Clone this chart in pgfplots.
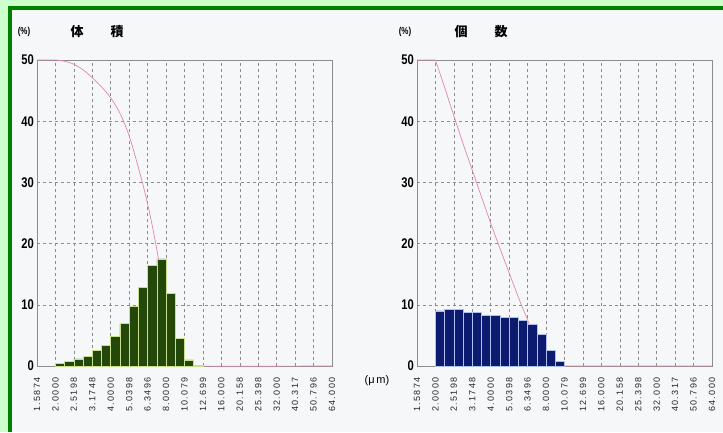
\documentclass[border=0pt]{standalone}
\usepackage{fontspec}
\setmainfont{Liberation Sans}
\newfontfamily\cjk{Noto Sans CJK JP}
\newfontfamily\narrowb{Liberation Sans}[FakeStretch=0.8]
\newfontfamily\spaced{Liberation Sans}[LetterSpace=16]
\usepackage{pgfplots}
\pgfplotsset{compat=1.18}

\definecolor{pagebg}{HTML}{F6F7F9}
\definecolor{lightgreen}{HTML}{CCFFCC}
\definecolor{framegreen}{HTML}{008000}
\definecolor{volbar}{HTML}{24480A}
\definecolor{volgap}{HTML}{C8E08C}
\definecolor{numbar}{HTML}{0C1A70}
\definecolor{numgap}{HTML}{B0C0EC}
\definecolor{cumline}{HTML}{E08AA0}
\definecolor{gridc}{HTML}{8C8C8C}

\pgfplotsset{psd/.style={
    scale only axis, width=295pt, height=306pt, anchor=south west,
    xmin=0, xmax=16, ymin=0, ymax=50,
    xtick={0,...,16},
    xticklabels={1.5874,2.0000,2.5198,3.1748,4.0000,5.0398,6.3496,8.0000,10.079,12.699,16.000,20.158,25.398,32.000,40.317,50.796,64.000},
    ytick={0,10,20,30,40,50},
    xmajorgrids, ymajorgrids,
    major grid style={gridc, dash pattern=on 3pt off 3pt, line width=0.6pt},
    axis line style={gridc, line width=0.8pt},
    tick style={draw=none},
    /pgf/number format/assume math mode=true,
    yticklabel style={font=\narrowb\bfseries\fontsize{14}{14}\selectfont, inner sep=1pt, xshift=-2pt},
    xticklabel style={font=\spaced\fontsize{9}{9}\selectfont, text=black!85, rotate=90, anchor=east, inner sep=0pt},
    xticklabel shift=11pt,
}}

\begin{document}
\begin{tikzpicture}
% frame and page
\fill[lightgreen] (0pt,0pt) rectangle (723pt,432pt);
\fill[framegreen] (7.5pt,0pt) rectangle (723pt,426pt);
\fill[pagebg] (11.5pt,0pt) rectangle (723pt,422pt);

% volume distribution
\begin{axis}[psd, at={(37pt,66pt)}]
\addplot[cumline, line width=0.7pt, smooth] coordinates {
  (0,50) (1,50) (1.5,49.8) (2,49.3) (2.5,48.4) (3,47.1) (3.5,45.6)
  (4,43.8) (4.5,41.3) (5,37.6) (5.5,32.4) (6,26.5) (6.5,19) (7,9.5)
  (7.5,3) (8,0.5) (8.5,0) (16,0)};
\addplot[ybar, bar width=0.5, bar shift=0pt, fill=volbar, draw=volgap, line width=0.6pt]
  coordinates {
  (1.25,0.4) (1.75,0.7) (2.25,1.15) (2.75,1.6) (3.25,2.5) (3.75,3.4)
  (4.25,4.9) (4.75,6.9) (5.25,9.7) (5.75,12.8) (6.25,16.5) (6.75,17.5)
  (7.25,11.9) (7.75,4.5) (8.25,1.0) (8.75,0.1)};
\end{axis}

% number distribution
\begin{axis}[psd, at={(417pt,66pt)}]
\addplot[cumline, line width=0.7pt] coordinates {
  (0,50) (1,50) (1.5,45.5) (2,40.9) (2.5,36.3) (3,32) (3.5,27.6)
  (4,23.3) (4.5,19.2) (5,15.2) (5.5,11.2) (6,7.5) (6.5,3.8) (7,1.2)
  (7.5,0.3) (8,0) (16,0)};
\addplot[ybar, bar width=0.5, bar shift=0pt, fill=numbar, draw=numgap, line width=0.6pt]
  coordinates {
  (1.25,9.0) (1.75,9.2) (2.25,9.2) (2.75,8.7) (3.25,8.8) (3.75,8.3)
  (4.25,8.3) (4.75,8.0) (5.25,7.9) (5.75,7.4) (6.25,6.8) (6.75,5.1)
  (7.25,2.6) (7.75,0.7)};
\end{axis}

% titles and units
\node[font=\narrowb\bfseries\fontsize{10}{10}\selectfont] at (24pt,400pt) {(\%)};
\node[font=\cjk\bfseries\fontsize{13}{13}\selectfont] at (77pt,400pt) {体};
\node[font=\cjk\bfseries\fontsize{13}{13}\selectfont] at (117pt,400pt) {積};
\node[font=\narrowb\bfseries\fontsize{10}{10}\selectfont] at (405pt,400pt) {(\%)};
\node[font=\cjk\bfseries\fontsize{13}{13}\selectfont] at (461pt,400pt) {個};
\node[font=\cjk\bfseries\fontsize{13}{13}\selectfont] at (501pt,400pt) {数};
\node[font=\fontsize{11}{11}\selectfont] at (377pt,51pt) {(μ\,m)};
\end{tikzpicture}
\end{document}
